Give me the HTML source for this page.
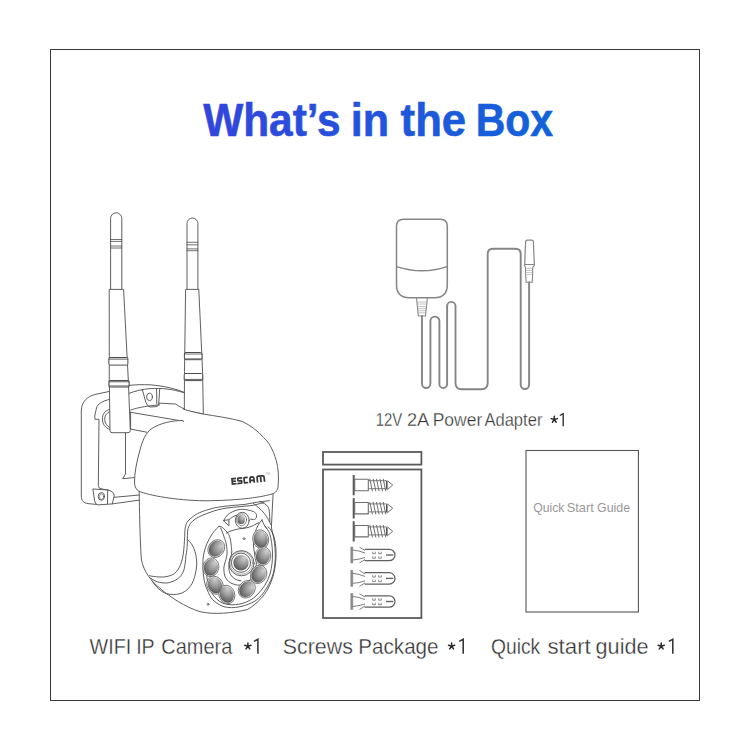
<!DOCTYPE html>
<html><head><meta charset="utf-8">
<style>
html,body{margin:0;padding:0;background:#fff;}
body{width:750px;height:750px;position:relative;overflow:hidden;font-family:"Liberation Sans",sans-serif;}
#frame{position:absolute;left:50px;top:49px;width:648px;height:650px;border:1px solid #3a3a3a;}
svg{position:absolute;left:0;top:0;}
</style></head>
<body>
<div id="frame"></div>
<svg width="750" height="750" viewBox="0 0 750 750">
<defs>
<linearGradient id="tg" x1="203" y1="0" x2="552" y2="0" gradientUnits="userSpaceOnUse">
<stop offset="0" stop-color="#3245dc"/><stop offset="1" stop-color="#1263da"/>
</linearGradient>
<symbol id="ast" overflow="visible"><path d="M0,-3.2V0M0,0L-3.1,-0.9M0,0L3.1,-0.9M0,0L-1.9,2.7M0,0L1.9,2.7" stroke="#2a2a2a" stroke-width="1.5" stroke-linecap="round" fill="none"/></symbol>
</defs>
<g font-family="Liberation Sans" font-weight="bold" font-size="46.3" fill="url(#tg)" stroke="url(#tg)" stroke-width="0.6">
<text x="203.2" y="135.8" textLength="137.4" lengthAdjust="spacingAndGlyphs">What’s</text>
<text x="350.8" y="135.8" textLength="38.4" lengthAdjust="spacingAndGlyphs">in</text>
<text x="400.6" y="135.8" textLength="65.5" lengthAdjust="spacingAndGlyphs">the</text>
<text x="475.7" y="135.8" textLength="77.4" lengthAdjust="spacingAndGlyphs">Box</text>
</g>

<g font-family="Liberation Sans" fill="#333" stroke="#fff" stroke-width="0.3">
<text x="375.7" y="426.4" font-size="18.3" textLength="26.5" lengthAdjust="spacingAndGlyphs">12V</text>
<text x="406.97" y="426.4" font-size="18.3" textLength="22.31" lengthAdjust="spacingAndGlyphs">2A</text>
<text x="432.71" y="426.4" font-size="18.3" textLength="49.50" lengthAdjust="spacingAndGlyphs">Power</text>
<text x="484.4" y="426.4" font-size="18.3" textLength="58.0" lengthAdjust="spacingAndGlyphs">Adapter</text>
<text x="89.60" y="653.8" font-size="22.0" textLength="41.74" lengthAdjust="spacingAndGlyphs">WIFI</text>
<text x="136.15" y="653.8" font-size="22.0" textLength="18.55" lengthAdjust="spacingAndGlyphs">IP</text>
<text x="161.31" y="653.8" font-size="22.0" textLength="70.96" lengthAdjust="spacingAndGlyphs">Camera</text>
<text x="282.72" y="653.8" font-size="22.0" textLength="70.16" lengthAdjust="spacingAndGlyphs">Screws</text>
<text x="358.34" y="653.8" font-size="22.0" textLength="80.23" lengthAdjust="spacingAndGlyphs">Package</text>
<text x="491.05" y="653.8" font-size="22.0" textLength="49.21" lengthAdjust="spacingAndGlyphs">Quick</text>
<text x="547.4" y="653.8" font-size="22.0" textLength="43.4" lengthAdjust="spacingAndGlyphs">start</text>
<text x="595.6" y="653.8" font-size="22.0" textLength="52.9" lengthAdjust="spacingAndGlyphs">guide</text>
</g>
<g fill="none" stroke="#333" stroke-width="1.55" stroke-linejoin="miter">
<path d="M253.9,641.4 L257.9,639.3 V653.7"/>
<path d="M459.2,641.4 L463.2,639.3 V653.7"/>
<path d="M668.8,641.4 L672.8,639.3 V653.7"/>
<path d="M559.8,415.5 L563.2,413.6 V426.3" stroke-width="1.4"/>
</g>
<use href="#ast" x="554.3" y="419.5"/>
<use href="#ast" x="247.9" y="646.2"/>
<use href="#ast" x="451.6" y="646.2"/>
<use href="#ast" x="661.2" y="646.2"/>

<!-- quick start guide -->
<rect x="526" y="450.5" width="112.4" height="161.5" fill="none" stroke="#555" stroke-width="1.1"/>
<g font-family="Liberation Sans" fill="#999">
<text x="533.19" y="511.9" font-size="12.6" textLength="31.13" lengthAdjust="spacingAndGlyphs">Quick</text>
<text x="566.65" y="511.9" font-size="12.6" textLength="27.10" lengthAdjust="spacingAndGlyphs">Start</text>
<text x="597.07" y="511.9" font-size="12.6" textLength="32.95" lengthAdjust="spacingAndGlyphs">Guide</text>
</g>

<!-- screws package -->
<g fill="none" stroke="#5a5a5a" stroke-width="1.8">
<rect x="323" y="452" width="98.4" height="12.6"/>
<rect x="323" y="469.5" width="98.4" height="148.5"/>
</g>
<!-- SCREWS -->
<g fill="none" stroke="#6e6e6e" stroke-width="1.1" stroke-linejoin="round">
<rect x="352.7" y="475.0" width="2" height="20.3" fill="#5a5a5a" stroke="none"/>
<rect x="354.7" y="479.3" width="13.6" height="11.4"/>
<path d="M368.3,480.7 H386.6 M368.3,488.7 H386.6" stroke-width="0.9"/>
<path d="M369.8,478.8 L372.4,491.2 M373.2,478.8 L375.8,491.2 M376.5,478.8 L379.1,491.2 M379.9,478.8 L382.5,491.2 M383.2,478.8 L385.8,491.2 " stroke-width="1"/>
<path d="M386.8,481.0 V489.3" stroke-width="1.6" stroke="#555"/>
<path d="M387.3,480.7 L392.7,485.0 L387.3,489.7" stroke-width="1"/>
<rect x="352.7" y="498.2" width="2" height="20.3" fill="#5a5a5a" stroke="none"/>
<rect x="354.7" y="502.5" width="13.6" height="11.4"/>
<path d="M368.3,503.9 H386.6 M368.3,511.9 H386.6" stroke-width="0.9"/>
<path d="M369.8,502.0 L372.4,514.4 M373.2,502.0 L375.8,514.4 M376.5,502.0 L379.1,514.4 M379.9,502.0 L382.5,514.4 M383.2,502.0 L385.8,514.4 " stroke-width="1"/>
<path d="M386.8,504.2 V512.5" stroke-width="1.6" stroke="#555"/>
<path d="M387.3,503.9 L392.7,508.2 L387.3,512.9" stroke-width="1"/>
<rect x="352.7" y="521.2" width="2" height="20.3" fill="#5a5a5a" stroke="none"/>
<rect x="354.7" y="525.5" width="13.6" height="11.4"/>
<path d="M368.3,526.9 H386.6 M368.3,534.9 H386.6" stroke-width="0.9"/>
<path d="M369.8,525.0 L372.4,537.4 M373.2,525.0 L375.8,537.4 M376.5,525.0 L379.1,537.4 M379.9,525.0 L382.5,537.4 M383.2,525.0 L385.8,537.4 " stroke-width="1"/>
<path d="M386.8,527.2 V535.5" stroke-width="1.6" stroke="#555"/>
<path d="M387.3,526.9 L392.7,531.2 L387.3,535.9" stroke-width="1"/>
<rect x="350.8" y="547.0" width="2" height="16" fill="#8c8c8c" stroke="#7a7a7a" stroke-width="0.5"/>
<path d="M352.7,550.0 Q359,550.5 365,553.0 M352.7,560.0 Q359,559.5 365,557.5" stroke-width="0.9"/>
<path d="M359.5,547.2 L365,550.5 M359.5,563.0 L365,559.5" stroke-width="0.9"/>
<path d="M364.7,549.3 H389.3 A5.7,5.7 0 0 1 389.3,560.7 H364.7" stroke-width="1.25" stroke="#606060"/>
<path d="M386,555.0 H393.3" stroke-width="1.4" stroke="#666"/>
<path d="M372.7,551.7 V553.7 H375.3 V551.7 M372.7,556.3 V558.3 H375.3 V556.3 M378.7,551.7 V553.7 H381.3 V551.7 M378.7,556.3 V558.3 H381.3 V556.3 " stroke-width="0.8"/>
<rect x="350.8" y="570.4" width="2" height="16" fill="#8c8c8c" stroke="#7a7a7a" stroke-width="0.5"/>
<path d="M352.7,573.4 Q359,573.9 365,576.4 M352.7,583.4 Q359,582.9 365,580.9" stroke-width="0.9"/>
<path d="M359.5,570.6 L365,573.9 M359.5,586.4 L365,582.9" stroke-width="0.9"/>
<path d="M364.7,572.7 H389.3 A5.7,5.7 0 0 1 389.3,584.1 H364.7" stroke-width="1.25" stroke="#606060"/>
<path d="M386,578.4 H393.3" stroke-width="1.4" stroke="#666"/>
<path d="M372.7,575.1 V577.1 H375.3 V575.1 M372.7,579.7 V581.7 H375.3 V579.7 M378.7,575.1 V577.1 H381.3 V575.1 M378.7,579.7 V581.7 H381.3 V579.7 " stroke-width="0.8"/>
<rect x="350.8" y="593.5" width="2" height="16" fill="#8c8c8c" stroke="#7a7a7a" stroke-width="0.5"/>
<path d="M352.7,596.5 Q359,597.0 365,599.5 M352.7,606.5 Q359,606.0 365,604.0" stroke-width="0.9"/>
<path d="M359.5,593.7 L365,597.0 M359.5,609.5 L365,606.0" stroke-width="0.9"/>
<path d="M364.7,595.8 H389.3 A5.7,5.7 0 0 1 389.3,607.2 H364.7" stroke-width="1.25" stroke="#606060"/>
<path d="M386,601.5 H393.3" stroke-width="1.4" stroke="#666"/>
<path d="M372.7,598.2 V600.2 H375.3 V598.2 M372.7,602.8 V604.8 H375.3 V602.8 M378.7,598.2 V600.2 H381.3 V598.2 M378.7,602.8 V604.8 H381.3 V602.8 " stroke-width="0.8"/>
</g>
<!-- ADAPTER -->
<g fill="none" stroke="#858585" stroke-width="1.5" stroke-linejoin="round" stroke-linecap="round">
<path d="M403.5,219.3 H440.3 Q447.3,219.3 447.3,226.3 V284.8 Q447.3,297.8 434.3,297.8 H409.5 Q396.5,297.8 396.5,284.8 V226.3 Q396.5,219.3 403.5,219.3 Z"/>
<path d="M396.6,266.6 Q422,275 447.2,266.6"/>
<path d="M416.5,297.8 L418.3,316 H425.5 L427.4,297.8" stroke-width="1.1"/>
<path d="M417.3,302H426.6M417.5,304H426.4M417.8,306.5H426.1M418,308.6H425.9M418.1,310.7H425.7M418.2,312.8H425.6" stroke-width="0.7" stroke="#aaa"/>
<path d="M422,316 V383.8 A4.2,4.2 0 0 0 430.4,383.8 V321.1 A4.5,4.5 0 0 1 439.4,321.1 V384.2 A3.85,3.85 0 0 0 447.1,384.2 V306.1 A4.2,4.2 0 0 1 455.5,306.1 V383 Q455.5,389.2 461.7,389.2 H481.5 Q487.7,389.2 487.7,383 V254 Q487.7,248.7 493,248.7 H515.4 Q520.7,248.7 520.7,254 V384.8 A4.2,4.2 0 0 0 529.1,384.8 V282.3" stroke-width="1.9"/>
<path d="M527.2,240.2 H531.8 Q533.3,240.2 533.4,241.8 L534.3,264.5 H524.7 L525.6,241.8 Q525.7,240.2 527.2,240.2 Z" stroke-width="1.2"/>
<path d="M524.3,265.3 L525.6,267.5 L525.6,275 L526.2,282.3 H532.2 L532.6,275 L532.6,267.5 L534.4,265.3" stroke-width="1.1"/>
<path d="M525.6,268.5H532.6M525.6,270.5H532.6M525.6,272.5H532.6M525.6,274.5H532.6" stroke-width="0.6" stroke="#aaa"/>
</g>
<!-- CAMERA -->
<defs>
<radialGradient id="led" cx="0.62" cy="0.3" r="0.85" fx="0.72" fy="0.18">
<stop offset="0" stop-color="#d0d0d0"/><stop offset="0.45" stop-color="#989898"/><stop offset="0.8" stop-color="#646464"/><stop offset="1" stop-color="#454545"/>
</radialGradient>
</defs>
<g fill="none" stroke="#4d4d4d" stroke-width="0.9" stroke-linejoin="round" stroke-linecap="round">
<!-- right antenna -->
<path d="M187,289.4 V223.5 A5.45,5.45 0 0 1 197.9,223.5 V289.4" fill="#fff"/>
<path d="M187,242.3H197.9M187,244.8H197.9M187,248.9H197.9M187,250.7H197.9" stroke-width="0.8"/>
<path d="M186,289.4 H198.8 L202.6,372 L203.3,414 L184.3,410 L184.5,372 Z" fill="#fff"/>
<rect x="184.4" y="352.5" width="17.6" height="7.2" rx="1.5" fill="#fff" stroke-width="1"/>
<path d="M184.6,354H201.8M184.6,358.8H201.8" stroke-width="0.8"/>
<rect x="184.2" y="373.5" width="18.5" height="7.1" rx="1.3" fill="#fff" stroke-width="1"/>
<path d="M184.4,379.4H202.5" stroke-width="0.9"/>
<!-- bracket plate -->
<path d="M110,391.3 L95,394.5 C87,396.5 81.3,402 81.3,411 L81.3,496 C81.3,500.5 83.5,503 88,503.6 L97,504.5" fill="#fff"/>
<path d="M110,399.3 C102,401 97.5,404 96.5,408 L94.7,416 L95,419.3 L99,419.3 L98.3,485.2 Q98.3,489 102,489 L107.7,490"/>
<path d="M93.2,489 L107.7,490 Q114.5,491.5 114.2,496 L112.3,503.9 L98,504.9 Q95.2,504.5 94.8,501.5 Z" fill="#fff"/>
<path d="M107.7,490 L107.5,503.9"/>
<ellipse cx="101.3" cy="496.4" rx="3.1" ry="3.8"/>
<ellipse cx="101.5" cy="496.6" rx="2.1" ry="2.8" stroke-width="0.6"/>
<path d="M114.2,497.3 L139.4,495 M112.3,503.9 L139.4,500.1"/>
<path d="M110,409.3 C104.5,410.5 102.3,414.5 102.4,419.3 C102.5,424 105,428 110,429.5 M110,411.4 C106.5,412.8 104.6,416 104.7,419.3 C104.8,423 106.5,426 110,427.6"/>
<path d="M125.5,432.7 V474 L122.6,478.7 L135,477.5"/>
<!-- neck band -->
<path d="M129.3,385.4 C136,384.6 142.3,384.5 150,384.8 C164,386 175,388.5 184,392.3"/>
<path d="M129.3,393.2 C135,391 142.3,389.3 150,388.6 C162,388 172,389 184,392.7"/>
<path d="M142.3,389.3 L145.8,402.3 Q147.5,406.6 150.1,407 L157.1,406.6 Q158.8,405 158.8,403.1 L159.7,388.8"/>
<path d="M156.6,389 L156.8,404"/>
<ellipse cx="149.5" cy="396.9" rx="2.9" ry="3.7"/>
<path d="M158.8,403.1 L175.3,404 C177.5,404.8 179.5,407 184,408.8"/>
<path d="M130.6,410.1 C135,408.5 142,406.8 151,405.7 L159.7,404.9"/>
<!-- left antenna -->
<path d="M110.6,289.4 V218.4 A5.6,5.6 0 0 1 121.8,218.4 V289.4" fill="#fff"/>
<path d="M110.6,239.5H121.8M110.6,241.4H121.8M110.6,246H121.8M110.6,248H121.8" stroke-width="0.8"/>
<path d="M109.6,289.4 H123.6 L128.3,380 L130.3,430.5 Q130.3,432.7 128,432.7 L112,432.7 Q110,432.7 110,430.5 L109.3,380 Z" fill="#fff"/>
<rect x="108.9" y="357.5" width="19" height="7.6" rx="1.2" fill="#fff" stroke-width="1"/>
<path d="M109.1,359.1H127.7" stroke-width="0.9"/>
<rect x="109" y="380.6" width="20.1" height="6.4" rx="1.2" fill="#fff" stroke-width="1.1"/>
<path d="M109.2,381.8H128.9M109.2,385.9H128.9" stroke-width="0.8"/>
<!-- arm -->
<path d="M130.6,412.3 L183.7,421.3 M130.6,412.3 V429.1 L146.7,432.2"/>
<!-- lower body -->
<path d="M139.2,491.5 C139.5,510 139.8,535 141.3,559 C143.5,572 152,582 160,588.3 C170,597 185,607 200,611.7 C215,615 232,613 247.3,609.6 C257,604 264,596 268,588.8 C272,581 274.5,573 275.3,565 C276.5,555 276.2,548 275,541 C273.8,535 271.6,531 271.4,527 L272.6,503 L273.2,492.8" fill="#fff"/>
<!-- dome -->
<path d="M182.2,420.5 C172,420.5 160,423 151,429.1 C146,433 142.5,440 140,450 C136.5,462 134.5,473 134.5,482 C134.5,487 136.5,490 139,491.3 C150,495.5 175,500.3 205,500.8 C235,500.5 258,498 272,494 C276,492.5 277.5,490.5 278,487 C279,478 278.5,468 276.2,460.4 C273,449 268,441 263.6,437.6 C258,431 250,425 242,421.4 C230,418 215,416 203,414 C195,412.5 188,410.5 183.7,409.3 L184,408.8" fill="#fff"/>
<path d="M183.7,421.3 L182.2,420.5"/>
</g>
<g fill="none" stroke="#4d4d4d" stroke-width="0.9" stroke-linejoin="round" stroke-linecap="round">
<!-- swoosh lines -->
<path d="M269.3,500.7 C262,501.5 253,502.7 245,504.4 C238,505 232,505.5 227,506 C220,506.8 215,507.5 211,508.8 C203,511 198,513 195,515.2 C190,518.5 187,521.5 186,524.7 C184.8,529 184.7,533 184.7,536.7 C184.3,543 184,549 183.3,554 C182.3,560 181,564 179.3,567.3 C177.5,570.5 176,572.5 173.3,574.3 C169,576.5 165,577.2 160,577 C155,576.8 152,576.3 149.3,575.7"/>
<path d="M264,502.7 C259,503.8 256,504.6 253.3,505.3 C245,506.3 235,507 227,508 C220,509 215,510.5 211,512 C204,514.5 199,516.5 195,519.2 C191,522 189,525 188,528.7 C187.3,533 187.3,538 187.3,543.3 C187.2,548 186.8,551 186,555 C185.5,561 185,566 184,569.7 C182.5,574 180.5,577 177.3,579 C174,581.3 170,582.6 166.7,583 C160,583.3 155,581.5 150.7,578.3"/>
<path d="M187.3,539.3 C190.5,542 192.5,545 194,548.7 C195.5,552.5 196.5,557 196.7,562 C196.8,566 196.3,570 195.3,574 C194.3,579 192.6,583 190.7,585.7 C187.5,590 184,592.5 180,593.7 C175.5,594.8 171,594.8 166.7,593.7 C161,592 156,587 152,581"/>
<!-- face oval outer -->
<path d="M219,526.4 C215,530 212.5,533 211,536 C208.5,540 206.5,544 205.4,548 C204,552 203.2,556 203,560 C202.8,566 203,573 203.8,578 C204.8,584 205.8,587 207.3,590 C209,594 210.5,597 212.5,599.5 C216,603 220,605.5 224,606.7 C229,608 234,608 240,606.7 C246,605.5 250.5,603.5 254.7,601.3 C259.5,598 263.5,593.5 266.7,588 C269.7,583 272,578 273.3,573.3 C274.8,567 275.5,560 275.3,553.3 C275,546 274.3,541 273.3,536 C272,531 270,528.5 268,526.7"/>
<path d="M206.6,574 C207,581 208.5,587 211.5,592.5 C214,597 218,601 223,603.3 C228,605 234,605.3 240,604 C247,602.5 252.5,599.5 257,595 C263,589 267.5,582 270,574 C272,567 272.6,560 272.5,553 C272.3,546 271.4,539 269.6,533.5 C268.5,530.5 266.5,527.8 264.5,525.5"/>
<!-- teardrop right boundary -->
<path d="M219,526.4 L221.4,526.8 C224.5,529 226.8,531.5 228.6,534.4 C230.3,537.5 230.8,540.5 231,544 C231.5,548 231.8,550 231.8,552"/>
<path d="M220.6,528 C222,531 223,533.5 223.8,536 C225,539.5 226,542 226.2,544 C227,548 227.2,551 227,554 C226.5,558 225.5,561 224.5,564 C223.5,568 223.5,572 225.3,577.3 C227.5,581 230,583 233.3,584 C236,585 238,585.4 241,585"/>
<path d="M231.8,552 C231.5,556 230,560 229.3,563 C228.5,567 228.8,571 230.5,574.5 C232.5,578 236,580.5 241,580.8"/>
<!-- right crescent inner boundary -->
<path d="M262,519.8 L259.5,523 C255,530 253,538 253.5,546 C254,553 256,558 256.3,563 C256.3,569 253.5,576 249,581 C246,584.5 243.5,586 241,586.5"/>
<path d="M262,519.8 C263,523 264.5,526 266.5,528.5"/>
<!-- top right corner curves -->
<path d="M253.3,503.5 C257,506 261,509.5 264,513.1 C266,515.5 267.6,518 268.3,519.5 L271,524.9"/>
<path d="M259.7,501.4 C263,502.3 266.5,504.5 268.3,507.3 C269.3,509.5 269.6,513 269.6,516.3 L269.9,521.7"/>
<!-- sensor hood -->
<path d="M223.7,520.5 C226,516 229,513 232.3,511.9 C236,510 239.5,509.3 242.7,509.3 C246.5,509.5 250,510.3 253.3,511.5 C255.5,512.5 256.6,514 256.6,515.8 C256.6,518 255.5,519.6 253.3,519.6 L250.5,519.1" fill="#fff"/>
<path d="M223.7,520.5 L228.9,519.7 L228.9,525.4 Z M228.9,519.7 C231.5,517.5 234,516 237,515"/>
<ellipse cx="242.3" cy="520.3" rx="6.9" ry="8" fill="#fff"/>
<ellipse cx="241.6" cy="519.7" rx="5" ry="5.9" stroke-width="0.7"/>
<ellipse cx="241.2" cy="519.4" rx="3.7" ry="4.5" fill="url(#led)" stroke="none"/>
<path d="M226.5,533 C231,530.5 236,529 243.6,528.3 C248,527.8 252,526.5 255,524.5 L258.6,522.8"/>
<!-- center lens rings -->
<circle cx="241.5" cy="563.2" r="12.6" stroke-width="1" stroke="#5e5e5e"/>
<circle cx="241.3" cy="562.9" r="11.4" stroke-width="0.6" stroke="#777"/>
<circle cx="241" cy="562.7" r="9.6" fill="#fff"/>
<circle cx="241" cy="562.7" r="7.7" fill="url(#led)" stroke="none"/>
<!-- dots -->
<circle cx="244" cy="538.7" r="1" stroke-width="0.7"/>
<circle cx="208" cy="604.3" r="1" stroke-width="0.7"/>
</g>
<!-- LEDs -->
<g stroke="#5a5a5a" stroke-width="0.75">
<ellipse cx="216.3" cy="548.6" rx="7.9" ry="9.4" transform="rotate(35 216.3 548.6)" fill="#fff"/>
<ellipse cx="210.9" cy="567.3" rx="7.9" ry="9.4" transform="rotate(12 210.9 567.3)" fill="#fff"/>
<ellipse cx="215" cy="585.2" rx="7.9" ry="9.4" transform="rotate(-30 215 585.2)" fill="#fff"/>
<ellipse cx="226.8" cy="594.5" rx="7.9" ry="9.4" transform="rotate(-20 226.8 594.5)" fill="#fff"/>
<ellipse cx="260.7" cy="539.2" rx="7.9" ry="9.4" transform="rotate(-15 260.7 539.2)" fill="#fff"/>
<ellipse cx="262.9" cy="556.1" rx="7.9" ry="9.4" transform="rotate(8 262.9 556.1)" fill="#fff"/>
<ellipse cx="258.6" cy="574.4" rx="7.9" ry="9.4" transform="rotate(25 258.6 574.4)" fill="#fff"/>
<ellipse cx="246.8" cy="589.2" rx="7.9" ry="9.4" transform="rotate(40 246.8 589.2)" fill="#fff"/>
<ellipse cx="216.3" cy="548.6" rx="7" ry="8.5" transform="rotate(35 216.3 548.6)" fill="url(#led)" stroke="none"/>
<ellipse cx="210.9" cy="567.3" rx="7" ry="8.5" transform="rotate(12 210.9 567.3)" fill="url(#led)" stroke="none"/>
<ellipse cx="215" cy="585.2" rx="7" ry="8.5" transform="rotate(-30 215 585.2)" fill="url(#led)" stroke="none"/>
<ellipse cx="226.8" cy="594.5" rx="7" ry="8.5" transform="rotate(-20 226.8 594.5)" fill="url(#led)" stroke="none"/>
<ellipse cx="260.7" cy="539.2" rx="7" ry="8.5" transform="rotate(-15 260.7 539.2)" fill="url(#led)" stroke="none"/>
<ellipse cx="262.9" cy="556.1" rx="7" ry="8.5" transform="rotate(8 262.9 556.1)" fill="url(#led)" stroke="none"/>
<ellipse cx="258.6" cy="574.4" rx="7" ry="8.5" transform="rotate(25 258.6 574.4)" fill="url(#led)" stroke="none"/>
<ellipse cx="246.8" cy="589.2" rx="7" ry="8.5" transform="rotate(40 246.8 589.2)" fill="url(#led)" stroke="none"/>
</g>
<!-- ESCAM logo -->
<g transform="translate(231.7,485) rotate(-5.6) scale(1.03)" fill="none" stroke="#383838" stroke-width="1.7" stroke-linejoin="miter">
<path d="M4.8,-5.95 H0.85 V-0.85 H4.8 M0.85,-3.4 H4.4"/>
<path d="M10.8,-5.95 H6.9 Q6.4,-5.95 6.4,-5.4 V-4 Q6.4,-3.4 6.9,-3.4 H9.4 Q9.95,-3.4 9.95,-2.85 V-1.4 Q9.95,-0.85 9.4,-0.85 H5.6"/>
<path d="M16.2,-5.95 H13.1 Q12.55,-5.95 12.55,-5.4 V-1.4 Q12.55,-0.85 13.1,-0.85 H16.2"/>
<path d="M18.15,0 V-3.9 Q18.15,-5.95 20.1,-5.95 Q22.05,-5.95 22.05,-3.9 V0 M18.15,-2.7 H22.05"/>
<path d="M25.25,0 V-4.6 Q25.25,-5.95 26.6,-5.95 H30.7 Q32.05,-5.95 32.05,-4.6 V0 M28.65,-5.95 V0"/>
</g>
<text x="265.4" y="474.6" font-family="Liberation Sans" font-size="2.9" fill="#aaa">TM</text>
</svg>
</body></html>
